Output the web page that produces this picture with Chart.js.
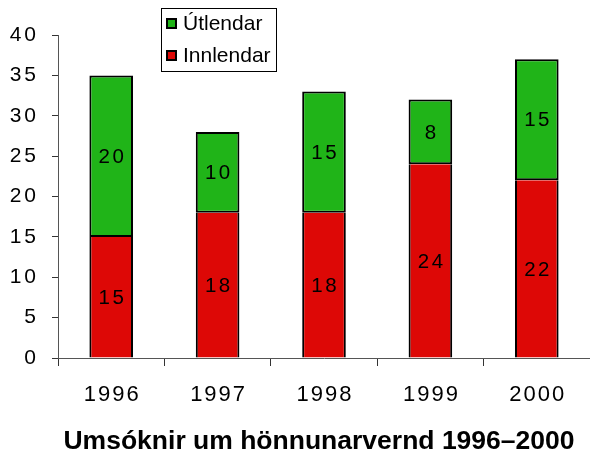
<!DOCTYPE html>
<html>
<head>
<meta charset="utf-8">
<script src="https://cdn.jsdelivr.net/npm/chart.js@4/dist/chart.umd.min.js"></script>
<style>
html,body{margin:0;padding:0;background:#fff;}
#wrap{position:relative;width:590px;height:454px;}
</style>
</head>
<body>
<div id="wrap"><canvas id="c" width="590" height="454"></canvas></div>
<script>
const categories = ['1996', '1997', '1998', '1999', '2000'];
const innlendar = [15, 18, 18, 24, 22];
const utlendar = [20, 10, 15, 8, 15];
const yTicks = [0, 5, 10, 15, 20, 25, 30, 35, 40];
const seriesNames = ['Innlendar', 'Útlendar'];
const chartTitle = 'Umsóknir um hönnunarvernd 1996–2000';

const RED = '#dd0806';
const GREEN = '#20b418';
const FONT = '"Liberation Sans", Arial, Helvetica, sans-serif';

const spacingPlugin = {
  id: 'spacing',
  afterUpdate(chart) {
    const cfg = { x: [2, 1], y: [3, 0] };
    Object.keys(cfg).forEach(id => {
      const s = chart.scales[id];
      if (s && !s._wrapped) {
        const orig = s.drawLabels;
        s.drawLabels = function (area) {
          const ctx = this.ctx;
          ctx.save();
          ctx.letterSpacing = cfg[id][0] + 'px';
          ctx.translate(cfg[id][1], 0);
          orig.call(this, area);
          ctx.restore();
        };
        s._wrapped = true;
      }
    });
  }
};

const labelPlugin = {
  id: 'extras',
  afterDatasetsDraw(chart) {
    const ctx = chart.ctx;
    ctx.save();
    ctx.font = '20.5px ' + FONT;
    ctx.letterSpacing = '2.5px';
    ctx.fillStyle = '#000';
    ctx.textAlign = 'center';
    ctx.textBaseline = 'middle';
    chart.data.datasets.forEach((ds, di) => {
      const meta = chart.getDatasetMeta(di);
      meta.data.forEach((bar, i) => {
        const p = bar.getProps(['x', 'y', 'base'], true);
        const cy = (p.y + p.base) / 2;
        ctx.fillText(String(ds.data[i]), p.x + 1.25, cy + 1);
      });
    });
    ctx.restore();
  },
  afterDraw(chart) {
    const ctx = chart.ctx;
    ctx.save();
    // legend box
    ctx.fillStyle = '#fff';
    ctx.fillRect(161.5, 8.5, 115, 63);
    ctx.strokeStyle = '#000';
    ctx.lineWidth = 1;
    ctx.strokeRect(161.5, 8.5, 115, 63);
    const items = [
      { name: seriesNames[1], color: GREEN, y: 18 },
      { name: seriesNames[0], color: RED, y: 50 }
    ];
    ctx.font = '21px ' + FONT;
    ctx.textBaseline = 'middle';
    ctx.textAlign = 'left';
    items.forEach(it => {
      ctx.fillStyle = it.color;
      ctx.fillRect(166, it.y, 11, 11);
      ctx.lineWidth = 2;
      ctx.strokeStyle = '#000';
      ctx.strokeRect(167, it.y + 1, 9, 9);
      ctx.fillStyle = '#000';
      ctx.fillText(it.name, 183, it.y + 6);
    });
    // title
    ctx.font = 'bold 26.5px ' + FONT;
    ctx.textAlign = 'center';
    ctx.textBaseline = 'alphabetic';
    ctx.fillStyle = '#000';
    ctx.fillText(chartTitle, 319, 449);
    ctx.restore();
  }
};

new Chart(document.getElementById('c'), {
  type: 'bar',
  data: {
    labels: categories,
    datasets: [
      { label: seriesNames[0], data: innlendar, backgroundColor: RED, borderColor: '#000',
        borderWidth: { left: 2, right: 2, top: 0, bottom: 0 }, borderSkipped: false, inflateAmount: 0 },
      { label: seriesNames[1], data: utlendar, backgroundColor: GREEN, borderColor: '#000',
        borderWidth: { left: 2, right: 2, top: 2, bottom: 2 }, borderSkipped: false, inflateAmount: 0 }
    ]
  },
  options: {
    responsive: false,
    animation: false,
    devicePixelRatio: 1,
    categoryPercentage: 1,
    barPercentage: 0.41,
    layout: { padding: { top: 35, right: -3, left: 0, bottom: 0 } },
    plugins: { legend: { display: false }, title: { display: false }, tooltip: { enabled: false } },
    scales: {
      x: {
        stacked: true,
        grid: { display: true, drawOnChartArea: false, drawTicks: true, tickLength: 8, color: '#333', offset: true },
        border: { display: true, color: '#555', width: 1 },
        ticks: { color: '#000', font: { family: FONT, size: 22 }, padding: 16, maxRotation: 0 },
        afterFit(s) { s.height = 96; }
      },
      y: {
        stacked: true,
        min: 0, max: 40,
        afterBuildTicks(s) { s.ticks = yTicks.map(v => ({ value: v })); },
        grid: { display: true, drawOnChartArea: false, drawTicks: true, tickLength: 6, color: '#333' },
        border: { display: true, color: '#555', width: 1 },
        ticks: { color: '#000', font: { family: FONT, size: 21 }, padding: 13 },
        afterFit(s) { s.width = 58; }
      }
    }
  },
  plugins: [spacingPlugin, labelPlugin]
});
</script>
</body>
</html>
